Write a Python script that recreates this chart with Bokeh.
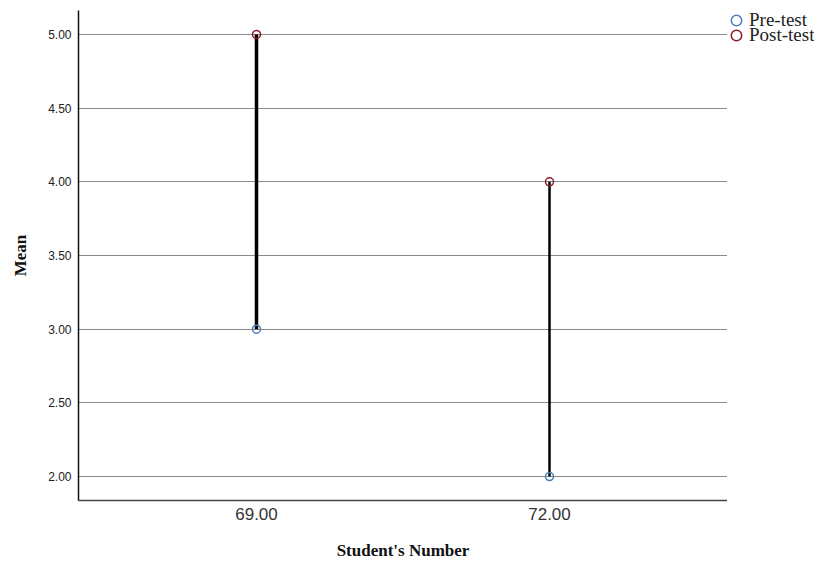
from bokeh.plotting import figure
from bokeh.layouts import row
from bokeh.models import FactorRange, Legend, LegendItem, FixedTicker, Range1d, PrintfTickFormatter
from bokeh.embed import file_html
from bokeh.resources import INLINE

students = ["69.00", "72.00"]
pre_test = [3.0, 2.0]
post_test = [5.0, 4.0]
line_widths = [3.5, 2.5]
y_ticks = [2.0, 2.5, 3.0, 3.5, 4.0, 4.5, 5.0]
legend_labels = ["Pre-test", "Post-test"]

PRE_COLOR = "#4a7ebb"
POST_COLOR = "#8b1a2b"
SERIF = "Liberation Serif"
SANS = "Liberation Sans"

x_range = FactorRange(factors=students, range_padding=0.1075, range_padding_units="absolute")
y_range = Range1d(1.8375, 5.1625)
p = figure(width=727, height=562, x_range=x_range, y_range=y_range,
           output_backend="svg", toolbar_location=None,
           min_border_left=78, min_border_right=0, min_border_top=10, min_border_bottom=61)
p.outline_line_color = None
p.background_fill_color = "white"
p.border_fill_color = "white"

p.segment(x0=students, y0=pre_test, x1=students, y1=post_test,
          line_color="black", line_width=line_widths)
p.scatter(x=students, y=pre_test, size=8, fill_color=None, line_color=PRE_COLOR, line_width=1.5)
p.scatter(x=students, y=post_test, size=8, fill_color=None, line_color=POST_COLOR, line_width=1.5)

# grid
p.xgrid.grid_line_color = None
p.ygrid.ticker = FixedTicker(ticks=y_ticks)
p.ygrid.grid_line_color = "#8a8a8a"
p.ygrid.grid_line_width = 1.2

# y axis
p.yaxis.ticker = FixedTicker(ticks=y_ticks)
p.yaxis.formatter = PrintfTickFormatter(format="%.2f")
p.yaxis.axis_label = "Mean"
p.yaxis.axis_label_text_font = SERIF
p.yaxis.axis_label_text_font_style = "bold"
p.yaxis.axis_label_text_font_size = "17px"
p.yaxis.axis_label_text_color = "#111111"
p.yaxis.axis_label_standoff = 15
p.yaxis.major_label_text_font = SANS
p.yaxis.major_label_text_font_size = "12px"
p.yaxis.major_label_text_color = "#222222"
p.yaxis.major_label_standoff = 7
p.yaxis.major_tick_out = 0
p.yaxis.major_tick_in = 0
p.yaxis.minor_tick_out = 0
p.yaxis.minor_tick_in = 0
p.yaxis.axis_line_color = "#111111"
p.yaxis.axis_line_width = 1.5

# x axis
p.xaxis.axis_label = "Student's Number"
p.xaxis.axis_label_text_font = SERIF
p.xaxis.axis_label_text_font_style = "bold"
p.xaxis.axis_label_text_font_size = "17px"
p.xaxis.axis_label_text_color = "#111111"
p.xaxis.axis_label_standoff = 18
p.xaxis.major_label_text_font = SANS
p.xaxis.major_label_text_font_size = "17px"
p.xaxis.major_label_text_color = "#333333"
p.xaxis.major_label_standoff = 7
p.xaxis.major_tick_out = 0
p.xaxis.major_tick_in = 0
p.xaxis.axis_line_color = "#444444"
p.xaxis.axis_line_width = 1.5

# legend panel (separate figure to the right of the plot)
leg = figure(width=87, height=562, x_range=Range1d(0, 1), y_range=Range1d(0, 1),
             output_backend="svg", toolbar_location=None,
             min_border_left=0, min_border_right=0, min_border_top=9, min_border_bottom=0)
leg.xaxis.visible = False
leg.yaxis.visible = False
leg.xgrid.visible = False
leg.ygrid.visible = False
leg.outline_line_color = None
leg.background_fill_color = "white"
leg.border_fill_color = "white"

lg_pre = leg.scatter(x=[0.5], y=[0.5], size=14, fill_color=None, line_color=PRE_COLOR,
                     line_width=1.5, visible=False)
lg_post = leg.scatter(x=[0.5], y=[0.5], size=14, fill_color=None, line_color=POST_COLOR,
                      line_width=1.5, visible=False)

common = dict(location="top_left", orientation="vertical", margin=-4, padding=0, spacing=0,
              glyph_width=26, label_height=20, label_standoff=0,
              label_text_font=SERIF, label_text_font_size="19px", label_text_color="#222222",
              border_line_color=None, background_fill_alpha=0, inactive_fill_alpha=0)

legend_pre = Legend(items=[LegendItem(label=legend_labels[0], renderers=[lg_pre])],
                    glyph_height=28, **common)
legend_post = Legend(items=[LegendItem(label=legend_labels[1], renderers=[lg_post])],
                     glyph_height=58, **common)
leg.add_layout(legend_pre, "center")
leg.add_layout(legend_post, "center")

layout = row(p, leg)
open("out.html", "w").write(file_html(layout, INLINE))
